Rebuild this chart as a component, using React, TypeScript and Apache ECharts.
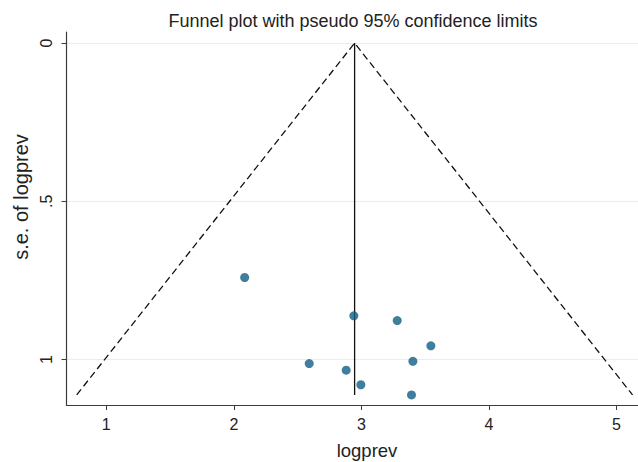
import React, { useEffect, useRef } from "react";
import * as echarts from "echarts";

// study estimates (logprev) and their standard errors
const logprev = [2.085, 2.591, 2.941, 3.281, 3.545, 3.404, 2.881, 2.996, 3.393];
const seLogprev = [0.741, 1.013, 0.862, 0.877, 0.957, 1.006, 1.034, 1.08, 1.112];

// pooled estimate line and pseudo 95% limits (vertices of the funnel)
const pooledX = [2.947, 2.947];
const pooledY = [0, 1.112];
const funnelX = [0.768, 2.947, 5.126];
const funnelY = [1.112, 0, 1.112];

const xTicks = [1, 2, 3, 4, 5];
const yTicks = [0, 0.5, 1];
const yTickLabels = ["0", ".5", "1"];

const FONT = "Liberation Sans, Arial, Helvetica, sans-serif";
const TEXT = "#222222";

export default function App() {
  const ref = useRef<HTMLDivElement>(null);
  useEffect(() => {
    if (!ref.current) return;
    const chart = echarts.init(ref.current, undefined, { renderer: "svg" });
    const points = logprev.map((x, i) => [x, seLogprev[i]]);
    const pooled = pooledX.map((x, i) => [x, pooledY[i]]);
    const funnel = funnelX.map((x, i) => [x, funnelY[i]]);
    chart.setOption({
      animation: false,
      backgroundColor: "#ffffff",
      textStyle: { fontFamily: FONT },
      graphic: [
        {
          type: "text",
          x: 353,
          y: 20.5,
          style: {
            text: "Funnel plot with pseudo 95% confidence limits",
            fontFamily: FONT,
            fontSize: 18,
            fill: TEXT,
            align: "center",
            verticalAlign: "middle",
          },
        },
        {
          type: "text",
          x: 367,
          y: 450,
          style: {
            text: "logprev",
            fontFamily: FONT,
            fontSize: 18.5,
            fill: TEXT,
            align: "center",
            verticalAlign: "middle",
          },
        },
        {
          type: "text",
          x: 21,
          y: 197,
          rotation: Math.PI / 2,
          style: {
            text: "s.e. of logprev",
            fontFamily: FONT,
            fontSize: 20,
            fill: TEXT,
            align: "center",
            verticalAlign: "middle",
          },
        },
      ],
      grid: { left: 66.5, right: 0, top: 32, bottom: 57, containLabel: false, outerBoundsMode: "none" },
      xAxis: {
        type: "value",
        min: 0.688,
        max: 5.169,
        axisLine: { onZero: false, lineStyle: { color: "#3c3c3c", width: 1.2 } },
        axisTick: { show: true, length: 5, customValues: xTicks, lineStyle: { color: "#3c3c3c" } },
        axisLabel: { customValues: xTicks, fontFamily: FONT, fontSize: 16, color: TEXT, margin: 11 },
        splitLine: { show: false },
      },
      yAxis: {
        type: "value",
        inverse: true,
        min: -0.035,
        max: 1.144,
        axisLine: { onZero: false, lineStyle: { color: "#3c3c3c", width: 1.2 } },
        axisTick: { show: true, length: 5, customValues: yTicks, lineStyle: { color: "#3c3c3c" } },
        axisLabel: {
          customValues: yTicks,
          rotate: 90,
          fontFamily: FONT,
          fontSize: 16,
          color: TEXT,
          margin: 12,
          formatter: (v: number) => {
            const i = yTicks.findIndex((t) => Math.abs(t - v) < 1e-9);
            return i >= 0 ? yTickLabels[i] : "";
          },
        },
        splitLine: { show: false },
      },
      series: [
        {
          type: "line",
          data: pooled,
          symbol: "none",
          lineStyle: { color: "#111111", width: 1.3 },
          markLine: {
            silent: true,
            symbol: "none",
            label: { show: false },
            lineStyle: { color: "#ececec", width: 1.2, type: "solid" },
            data: yTicks.map((t) => ({ yAxis: t })),
            z: 0,
          },
          z: 3,
        },
        {
          type: "line",
          data: funnel,
          symbol: "none",
          lineStyle: { color: "#111111", width: 1.3, type: [7, 4] },
          z: 3,
        },
        {
          type: "scatter",
          data: points,
          symbol: "circle",
          symbolSize: 9,
          itemStyle: { color: "#105e86" },
          z: 4,
        },
      ],
    });
    return () => chart.dispose();
  }, []);
  return <div ref={ref} style={{ position: "fixed", left: 0, top: 0, width: 638, height: 462 }} />;
}
